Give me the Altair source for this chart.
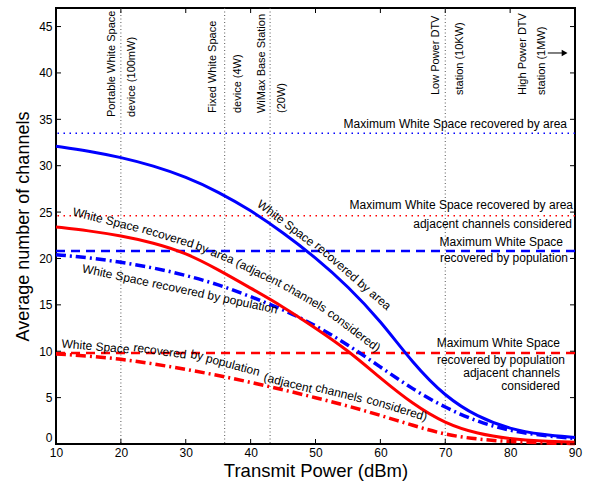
import altair as alt
import pandas as pd

# ---------------- data ----------------
power_dbm = [10, 15, 20, 25, 30, 35, 40, 45, 50, 55, 60, 65, 70, 75, 80, 85, 90]
ws_area = [32.1, 31.6, 30.9, 30.0, 28.8, 27.2, 25.2, 22.8, 20.1, 17.0, 13.3, 8.7, 5.1, 2.9, 1.6, 1.0, 0.7]
ws_area_adj = [23.4, 23.0, 22.45, 21.7, 20.6, 18.8, 16.8, 14.8, 12.5, 10.1, 7.1, 4.3, 2.2, 1.1, 0.55, 0.3, 0.2]
ws_pop = [20.4, 20.1, 19.6, 19.0, 18.2, 17.2, 15.9, 14.5, 12.8, 10.7, 8.3, 5.9, 3.9, 2.4, 1.4, 0.9, 0.6]
ws_pop_adj = [9.7, 9.5, 9.15, 8.65, 8.05, 7.4, 6.65, 5.85, 5.0, 4.1, 3.1, 2.0, 1.0, 0.5, 0.25, 0.12, 0.05]

max_area = 33.5
max_area_adj = 24.6
max_pop = 20.8
max_pop_adj = 9.8

device_power = [20, 36, 43, 70]

x_ticks = [10, 20, 30, 40, 50, 60, 70, 80, 90]
y_ticks = [0, 5, 10, 15, 20, 25, 30, 35, 40, 45]

# vertical device labels
dev_text = ["Portable White Space", "device (100mW)", "Fixed White Space", "device (4W)",
            "WiMax Base Station", "(20W)", "Low Power DTV", "station (10KW)",
            "High Power DTV", "station (1MW)"]
dev_x = [18.63, 21.71, 34.20, 38.05, 41.75, 44.84, 68.57, 72.27, 81.98, 84.91]
dev_y = [35.25, 35.25, 35.68, 35.68, 35.68, 35.68, 37.62, 37.62, 37.62, 37.62]

# right-side max labels
max_text = ["Maximum White Space recovered by area",
            "Maximum White Space recovered by area", "adjacent channels considered",
            "Maximum White Space", "recovered by population",
            "Maximum White Space", "recovered by population", "adjacent channels", "considered"]
max_tx = [88.77, 89.69, 89.54, 88.15, 88.92, 87.69, 88.46, 87.69, 87.69]
max_ty = [34.49, 25.76, 23.71, 21.77, 20.05, 10.89, 9.06, 7.66, 6.25]

# curve labels (word chunks following the curves)
lab_text = ["White Space", "recovered by area",
            "White Space", "recovered", "by", "area", "(adjacent", "channels", "considered)",
            "White Space recovered by population",
            "White Space", "recovered", "by", "population", "(adjacent", "channels", "considered)"]
lab_x = [45.44, 55.76,
         17.71, 27.26, 32.50, 35.66, 41.29, 48.38, 55.93,
         29.11,
         16.10, 26.03, 31.73, 37.28, 45.76, 53.62, 62.56]
lab_y = [23.82, 18.11,
         24.15, 22.38, 21.18, 20.30, 18.45, 15.85, 12.25,
         16.71,
         10.52, 10.02, 9.59, 8.52, 6.58, 5.50, 3.88]
lab_angle = [37, 41,
             14, 17, 20, 22, 26, 30, 37,
             12,
             5, 8, 12, 15, 14, 14, 17]

arrow_x = [85.8, 88.4]
arrow_y = 42.15

# ---------------- chart ----------------
FONT = "Liberation Sans"
W, H = 519, 436

xs = alt.Scale(domain=[10, 90], nice=False, zero=False)
ys = alt.Scale(domain=[0, 47], nice=False, zero=False)
xaxis = alt.Axis(title="Transmit Power (dBm)", values=x_ticks, format="d", ticks=False, domain=False,
                 grid=False, labelFlush=False, labelOverlap=False, labelPadding=3, titlePadding=3,
                 titleFontSize=18.5)
yaxis = alt.Axis(title="Average number of channels", values=y_ticks, format="d", ticks=False, domain=False,
                 grid=False, labelFlush=False, labelOverlap=False, labelPadding=4, titlePadding=6,
                 labelBaseline={"condition": {"test": "datum.value === 0", "value": "bottom"},
                                "value": "middle"})


def X(f):
    return alt.X(f, type="quantitative", scale=xs, axis=xaxis)


def Y(f):
    return alt.Y(f, type="quantitative", scale=ys, axis=yaxis)


curves = pd.DataFrame({"x": power_dbm, "area": ws_area, "area_adj": ws_area_adj,
                       "pop": ws_pop, "pop_adj": ws_pop_adj})
base = alt.Chart(curves)
INTERP = "basis"

l_area = base.mark_line(color="#0000ff", strokeWidth=3, interpolate=INTERP).encode(X("x"), Y("area"))
l_area_adj = base.mark_line(color="#ff0000", strokeWidth=3, interpolate=INTERP).encode(X("x"), Y("area_adj"))
l_pop = base.mark_line(color="#0000ff", strokeWidth=3.5, strokeDash=[10, 4, 2, 4],
                       interpolate=INTERP).encode(X("x"), Y("pop"))
l_pop_adj = base.mark_line(color="#ff0000", strokeWidth=3.5, strokeDash=[10, 4, 2, 4],
                           interpolate=INTERP).encode(X("x"), Y("pop_adj"))


def hline(level, color, width, dash):
    return alt.Chart(pd.DataFrame({"y": [level]})).mark_rule(
        color=color, strokeWidth=width, strokeDash=dash).encode(Y("y"))


h1 = hline(max_area, "#0000ff", 1.5, [1.5, 4.5])
h2 = hline(max_area_adj, "#ff0000", 1.5, [1.5, 4.5])
h3 = hline(max_pop, "#0000ff", 2.5, [9, 6])
h4 = hline(max_pop_adj, "#ff0000", 2.5, [9, 6])

vlines = alt.Chart(pd.DataFrame({"x": device_power})).mark_rule(
    color="#555555", strokeWidth=1, strokeDash=[1, 2.5]).encode(X("x"))

xt = pd.DataFrame({"x": x_ticks})
yt = pd.DataFrame({"y": y_ticks})
tick_b = alt.Chart(xt).mark_rule(color="black", strokeWidth=1).encode(X("x"), y=alt.value(H), y2=alt.value(H - 5))
tick_t = alt.Chart(xt).mark_rule(color="black", strokeWidth=1).encode(X("x"), y=alt.value(0), y2=alt.value(5))
tick_l = alt.Chart(yt).mark_rule(color="black", strokeWidth=1).encode(Y("y"), x=alt.value(0), x2=alt.value(5))
tick_r = alt.Chart(yt).mark_rule(color="black", strokeWidth=1).encode(Y("y"), x=alt.value(W), x2=alt.value(W - 5))

dev = alt.Chart(pd.DataFrame({"t": dev_text, "x": dev_x, "y": dev_y})).mark_text(
    font=FONT, fontSize=11, angle=270, align="left", baseline="middle", color="black").encode(
    X("x"), Y("y"), text="t:N")

maxlab = alt.Chart(pd.DataFrame({"t": max_text, "x": max_tx, "y": max_ty})).mark_text(
    font=FONT, fontSize=12, align="right", baseline="middle", color="black").encode(
    X("x"), Y("y"), text="t:N")

curvelab = alt.Chart(pd.DataFrame({"t": lab_text, "x": lab_x, "y": lab_y, "a": lab_angle})).mark_text(
    font=FONT, fontSize=12, align="center", baseline="middle", color="black").encode(
    X("x"), Y("y"), text="t:N", angle=alt.Angle("a:Q", scale=None))

arrow_line = alt.Chart(pd.DataFrame({"x": [arrow_x[0]], "x2": [arrow_x[1]], "y": [arrow_y]})).mark_rule(
    color="black", strokeWidth=1).encode(X("x"), x2="x2:Q", y=Y("y"))
arrow_head = alt.Chart(pd.DataFrame({"x": [arrow_x[1]], "y": [arrow_y]})).mark_point(
    shape="triangle-right", filled=True, color="black", size=45, opacity=1).encode(X("x"), Y("y"))

chart = alt.layer(
    vlines, h1, h2, h3, h4,
    l_pop_adj, l_pop, l_area_adj, l_area,
    tick_b, tick_t, tick_l, tick_r,
    dev, maxlab, curvelab, arrow_line, arrow_head,
).properties(
    width=W, height=H,
    autosize=alt.AutoSizeParams(type="none"),
    padding={"left": 56, "top": 8, "right": 18, "bottom": 37},
).configure_view(
    stroke="black", strokeWidth=2
).configure_axis(
    labelFont=FONT, labelFontSize=12, labelColor="black",
    titleFont=FONT, titleFontSize=18, titleFontWeight="normal", titleColor="black",
)

chart.save("out.html", embed_options={"renderer": "svg", "actions": False})
